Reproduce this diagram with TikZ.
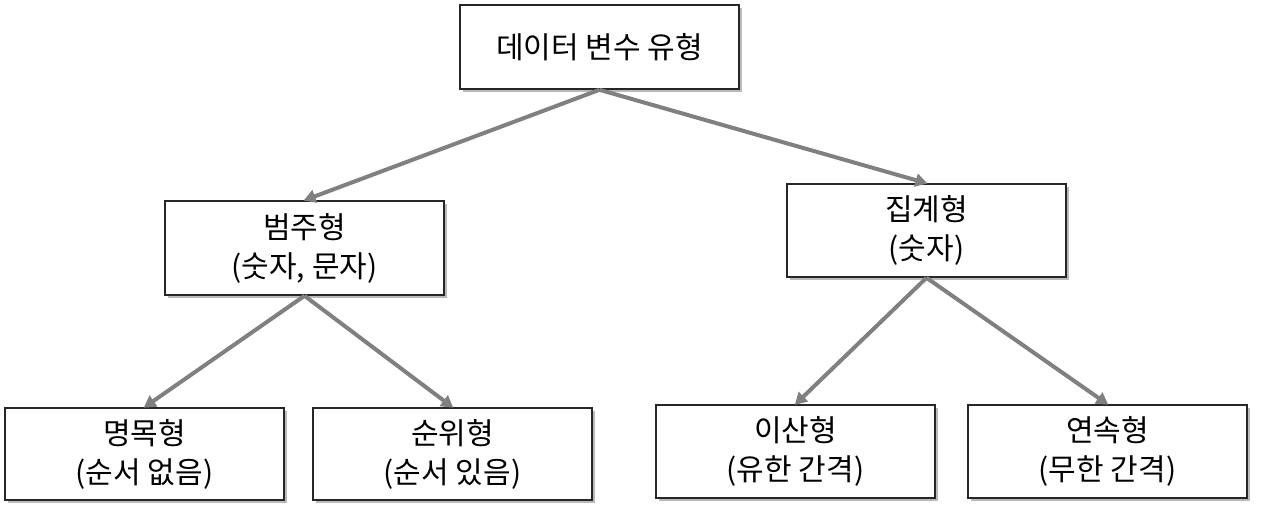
\documentclass[tikz,border=0pt]{standalone}
\usepackage{fontspec}
\setmainfont{Noto Sans CJK KR}
\usetikzlibrary{arrows.meta,shadows}
\begin{document}
\begin{tikzpicture}[x=1pt,y=-1pt,
  box/.style={draw=black!85, line width=1.6pt, fill=white, minimum width=279pt, minimum height=93pt, inner sep=0pt, align=center, font=\fontsize{30}{39}\selectfont,
    drop shadow={shadow xshift=3pt, shadow yshift=-3pt, fill=black!45, opacity=0.6}},
  link/.style={draw=black!50, line width=4pt, -{Triangle[length=12pt,width=13pt]}, shorten >=-1pt}]
\useasboundingbox (0,0) rectangle (1261,521);
\node[box, minimum height=84pt] (root) at (599.5,47) {데이터 변수 유형};
\node[box, minimum height=94pt] (cat) at (304.5,248) {범주형\\(숫자, 문자)};
\node[box] (agg) at (926.5,230.5) {집계형\\(숫자)};
\node[box, minimum height=92pt] (nom) at (144.5,454) {명목형\\(순서 없음)};
\node[box, minimum height=92pt] (ord) at (452.5,454) {순위형\\(순서 있음)};
\node[box] (dis) at (795.5,451.5) {이산형\\(유한 간격)};
\node[box] (con) at (1107.5,451.5) {연속형\\(무한 간격)};
\draw[link] (root.south) -- (cat.north);
\draw[link] (root.south) -- (agg.north);
\draw[link] (cat.south) -- (nom.north);
\draw[link] (cat.south) -- (ord.north);
\draw[link] (agg.south) -- (dis.north);
\draw[link] (agg.south) -- (con.north);
\end{tikzpicture}
\end{document}
